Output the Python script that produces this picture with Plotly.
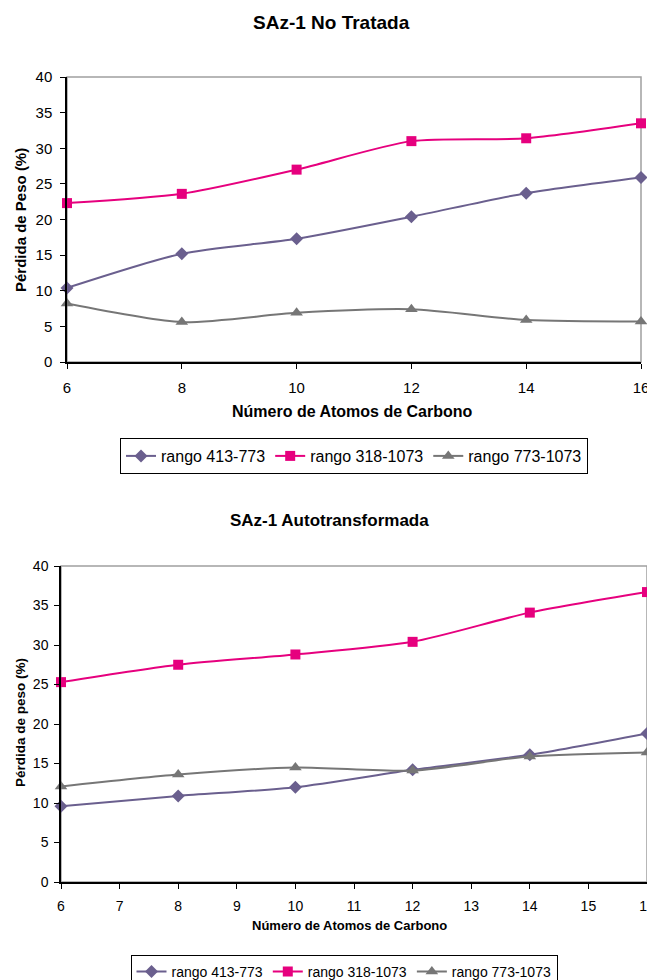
import plotly.graph_objects as go

carbon = [6, 8, 10, 12, 14, 16]

# SAz-1 No Tratada
nt_413_773 = [10.4, 15.2, 17.3, 20.4, 23.7, 25.9]
nt_318_1073 = [22.3, 23.6, 27.0, 31.0, 31.4, 33.5]
nt_773_1073 = [8.2, 5.6, 6.9, 7.4, 5.9, 5.7]

# SAz-1 Autotransformada
at_413_773 = [9.6, 10.9, 12.0, 14.2, 16.1, 18.8]
at_318_1073 = [25.3, 27.5, 28.8, 30.4, 34.1, 36.7]
at_773_1073 = [12.1, 13.6, 14.5, 14.1, 15.9, 16.4]

names = ["rango 413-773", "rango 318-1073", "rango 773-1073"]
colors = ["#6A5F8E", "#E6007E", "#767676"]
symbols = ["diamond", "square", "triangle-up"]
msizes = [10, 10, 11]

W, H = 647, 980
FONT = "Liberation Sans, Arial, sans-serif"

fig = go.Figure()

for i, ys in enumerate([nt_413_773, nt_318_1073, nt_773_1073]):
    fig.add_trace(go.Scatter(
        x=carbon, y=ys, name=names[i], mode="lines+markers",
        line=dict(color=colors[i], width=2, shape="spline", smoothing=0.7),
        marker=dict(symbol=symbols[i], size=msizes[i], color=colors[i]),
        xaxis="x", yaxis="y", legend="legend", cliponaxis=False))

for i, ys in enumerate([at_413_773, at_318_1073, at_773_1073]):
    fig.add_trace(go.Scatter(
        x=carbon, y=ys, name=names[i], mode="lines+markers",
        line=dict(color=colors[i], width=2, shape="spline", smoothing=0.7),
        marker=dict(symbol=symbols[i], size=msizes[i], color=colors[i]),
        xaxis="x2", yaxis="y2", legend="legend2", cliponaxis=False))

def px_x(p):
    return p / W

def px_y(p):
    return 1 - p / H

axis_common = dict(showgrid=False, zeroline=False, showline=True, linecolor="black",
                   linewidth=1.5, ticks="outside", ticklen=5, tickcolor="black",
                   automargin=False, ticklabeloverflow="allow")

fig.update_layout(
    width=W, height=H,
    margin=dict(l=0, r=0, t=0, b=0, autoexpand=False),
    paper_bgcolor="white", plot_bgcolor="white",
    font=dict(family=FONT, color="black"),
    xaxis=dict(axis_common, domain=[px_x(67), px_x(641)], range=[6, 16], dtick=2,
               anchor="y", ticklabelstandoff=6,
               tickfont=dict(family=FONT, size=15, color="black")),
    yaxis=dict(axis_common, domain=[px_y(362), px_y(77)], range=[0, 40], dtick=5,
               anchor="x", ticklabelstandoff=5,
               tickfont=dict(family=FONT, size=15, color="black")),
    xaxis2=dict(axis_common, domain=[px_x(61), 1.0], range=[6, 16], dtick=1,
                anchor="y2", ticklabelstandoff=5,
                tickfont=dict(family=FONT, size=14, color="black")),
    yaxis2=dict(axis_common, domain=[px_y(882), px_y(566)], range=[0, 40], dtick=5,
                anchor="x2", ticklabelstandoff=3,
                tickfont=dict(family=FONT, size=14, color="black")),
    legend=dict(orientation="h", x=px_x(354), y=px_y(438), xanchor="center", yanchor="top",
                bordercolor="black", borderwidth=1, bgcolor="white",
                font=dict(family=FONT, size=16, color="black"),
                itemwidth=30, tracegroupgap=0),
    legend2=dict(orientation="h", x=px_x(344), y=px_y(955), xanchor="center", yanchor="top",
                 bordercolor="black", borderwidth=1, bgcolor="white",
                 font=dict(family=FONT, size=14, color="black"),
                 itemwidth=30, tracegroupgap=0),
    showlegend=True,
)

# plot-area border (top/right in gray)
fig.add_shape(type="rect", xref="x domain", yref="y domain", x0=0, x1=1, y0=0, y1=1,
              line=dict(color="#A0A0A0", width=1.5), layer="below")
fig.add_shape(type="rect", xref="x2 domain", yref="y2 domain", x0=0, x1=1, y0=0, y1=1,
              line=dict(color="#A0A0A0", width=1.5), layer="below")

annots = [
    dict(text="<b>SAz-1 No Tratada</b>", x=px_x(331), y=px_y(23), size=19),
    dict(text="<b>Número de Atomos de Carbono</b>", x=px_x(352), y=px_y(411), size=16),
    dict(text="<b>Pérdida de Peso (%)</b>", x=px_x(20), y=px_y(220), size=15, angle=-90),
    dict(text="<b>SAz-1 Autotransformada</b>", x=px_x(330), y=px_y(520), size=17),
    dict(text="<b>Número de Atomos de Carbono</b>", x=px_x(349), y=px_y(925), size=13),
    dict(text="<b>Pérdida de peso (%)</b>", x=px_x(20), y=px_y(723), size=13.5, angle=-90),
]
for a in annots:
    fig.add_annotation(text=a["text"], x=a["x"], y=a["y"], xref="paper", yref="paper",
                       xanchor="center", yanchor="middle", showarrow=False,
                       textangle=a.get("angle", 0),
                       font=dict(family=FONT, size=a["size"], color="black"))

fig.write_html("out.html", config={"displayModeBar": False},
               post_script="document.body.style.margin='0';document.body.style.overflow='hidden';")
